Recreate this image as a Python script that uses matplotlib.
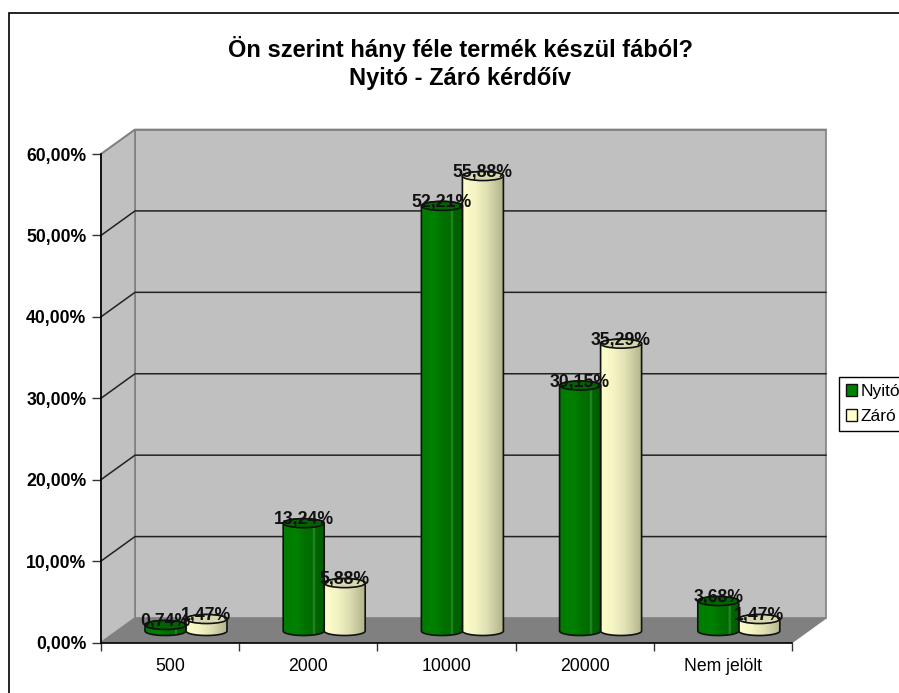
import numpy as np
import matplotlib
matplotlib.use("Agg")
import matplotlib.pyplot as plt
from matplotlib.colors import LinearSegmentedColormap
from matplotlib.patches import Ellipse, Polygon, Rectangle

plt.rcParams['font.family'] = ['Liberation Sans', 'DejaVu Sans']

categories = ["500", "2000", "10000", "20000", "Nem jelölt"]
nyito = [0.74, 13.24, 52.21, 30.15, 3.68]
zaro = [1.47, 5.88, 55.88, 35.29, 1.47]
y_ticks = [0, 10, 20, 30, 40, 50, 60]
y_labels = ["0,00%", "10,00%", "20,00%", "30,00%", "40,00%", "50,00%", "60,00%"]

# pixel sizes of the 3d box
W, H = 899, 693
LEFT, RIGHT, TOP, BOTTOM = 101, 792, 154, 642.5
DX = 34 * 5 / (RIGHT - LEFT)
DY = 24.5 * 60 / (BOTTOM - TOP)
BASE = 11.5 * 60 / (BOTTOM - TOP)
RY = 4.5 * 60 / (BOTTOM - TOP)
RX = 20.5 * 5 / (RIGHT - LEFT)
OFFSET = 0.115

green_map = LinearSegmentedColormap.from_list("g", [
    (0, "#007c00"), (0.35, "#008000"), (0.55, "#007000"), (0.72, "#006c00"),
    (0.76, "#2f8f2f"), (0.80, "#006400"), (1, "#005c00")])
cream_map = LinearSegmentedColormap.from_list("c", [
    (0, "#ffffcc"), (0.3, "#f4f4c4"), (0.6, "#e0e0b4"), (1, "#b4b48c")])


def draw_cylinder(ax, xc, value, cmap, cap_color, z):
    t = np.linspace(0, np.pi, 40)
    top = BASE + value
    xs = np.concatenate([xc - RX * np.cos(t), xc + RX * np.cos(t)])
    ys = np.concatenate([BASE - RY * np.sin(t), top + RY * np.sin(t)])
    outline = Polygon(np.column_stack([xs, ys]), closed=True, fc="none",
                      ec="#111111", lw=1.2, zorder=z + 0.2, clip_on=False)
    grad = np.linspace(0, 1, 128).reshape(1, -1)
    img = ax.imshow(grad, cmap=cmap, aspect="auto", zorder=z,
                    extent=[xc - RX, xc + RX, BASE - RY, top + RY])
    ax.add_patch(outline)
    img.set_clip_path(outline)
    ax.add_patch(Ellipse((xc, top), 2 * RX, 2 * RY, fc=cap_color, ec="#111111",
                         lw=1.2, zorder=z + 0.3, clip_on=False))


fig = plt.figure(figsize=(W / 100, H / 100), dpi=100)
ax = fig.add_axes([LEFT / W, 1 - BOTTOM / H, (RIGHT - LEFT) / W, (BOTTOM - TOP) / H])
ax.patch.set_visible(False)

# frame round the chart, its bottom and right sides fall outside the picture
fig.add_artist(Rectangle((9 / W, -10 / H), 900 / W, 690 / H, fc="none", ec="black",
                         lw=1.2, transform=fig.transFigure))

# walls and floor
ax.add_patch(Polygon([(0, 0), (DX, DY), (5 + DX, DY), (5, 0)], fc="#808080", ec="#808080", clip_on=False, zorder=1))
ax.add_patch(Polygon([(DX, DY), (5 + DX, DY), (5 + DX, 60 + DY), (DX, 60 + DY)], fc="#c0c0c0", ec="#808080", lw=1.2, clip_on=False, zorder=1))
ax.add_patch(Polygon([(0, 0), (DX, DY), (DX, 60 + DY), (0, 60)], fc="#c0c0c0", ec="#808080", lw=1.2, clip_on=False, zorder=1))

for v in y_ticks[1:-1]:
    ax.plot([0, DX, 5 + DX], [v, v + DY, v + DY], color="#222222", lw=1.1, clip_on=False, zorder=2)
ax.plot([0, DX, 5 + DX], [60, 60 + DY, 60 + DY], color="#808080", lw=1.2, clip_on=False, zorder=2)

for i in range(len(categories)):
    xc = i + 0.5 + OFFSET
    draw_cylinder(ax, xc + RX, zaro[i], cream_map, "#d8d8b0", 3)
    draw_cylinder(ax, xc - RX, nyito[i], green_map, "#006400", 4)

for i in range(len(categories)):
    xc = i + 0.5 + OFFSET
    for x, val in ((xc - RX, nyito[i]), (xc + RX, zaro[i])):
        ax.annotate(f"{val:.2f}%".replace(".", ","), (x, BASE + val), xytext=(0, 2.5),
                    textcoords="offset points", ha="center", va="center",
                    fontsize=12.7, fontweight="bold", color="#111111", zorder=6,
                    annotation_clip=False)

ax.set_xlim(0, 5)
ax.set_ylim(0, 60)
ax.set_xticks(np.arange(0, 6))
ax.set_xticklabels([])
ax.set_xticks(np.arange(len(categories)) + 0.5, categories, minor=True, fontsize=12.7)
ax.set_yticks(y_ticks, y_labels, fontsize=12.7, fontweight="bold")
ax.tick_params(axis="x", which="major", length=6, width=1, color="#333333")
ax.tick_params(axis="x", which="minor", length=0, pad=11)
ax.tick_params(axis="y", length=6.5, width=1, color="#333333", pad=4)
for side in ("top", "right"):
    ax.spines[side].set_visible(False)
for side in ("left", "bottom"):
    ax.spines[side].set_linewidth(1.2)
    ax.spines[side].set_zorder(2.5)

fig.text(460 / W, 1 - 49 / H, "Ön szerint hány féle termék készül fából?", ha="center", va="center",
         fontsize=17, fontweight="bold")
fig.text(460 / W, 1 - 78 / H, "Nyitó - Záró kérdőív", ha="center", va="center",
         fontsize=17, fontweight="bold")

handles = [Rectangle((0, 0), 1, 1, fc="#008000", ec="#111111", lw=1),
           Rectangle((0, 0), 1, 1, fc="#ffffcc", ec="#111111", lw=1)]
fig.legend(handles, ["Nyitó", "Záró"], loc="upper left",
           bbox_to_anchor=(839 / W, 1 - 377 / H), fontsize=12.5, fancybox=False,
           edgecolor="black", framealpha=1, borderpad=0.4, labelspacing=0.6,
           handlelength=0.65, handleheight=0.65, handletextpad=0.2, borderaxespad=0)

fig.savefig("out.png", dpi=100)
